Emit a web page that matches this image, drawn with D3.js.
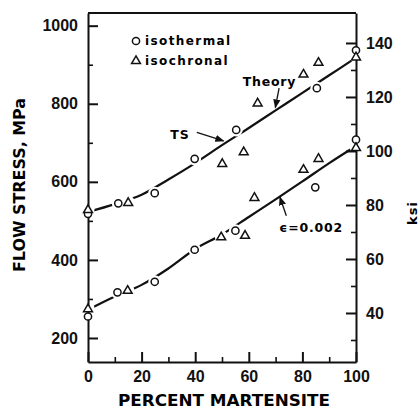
<!DOCTYPE html>
<html>
<head>
<meta charset="utf-8">
<script src="https://cdn.jsdelivr.net/npm/d3@7"></script>
<style>
  body { margin: 0; background: #fff; }
  svg { display: block; font-family: "DejaVu Sans", sans-serif; }
  .tick text { font-size: 16px; fill: #111; font-weight: bold; }
  .axis path, .axis line { stroke: #111; stroke-width: 2; }
  .minor line { stroke-width: 1.6; }
</style>
</head>
<body>
<div class="svg-container"></div>
<script>
// percent martensite (x) and theory curves (MPa)
let pct = [0, 10, 20, 30, 40, 50, 60, 70, 80, 90, 100];
let tsTheory = [523, 543, 567, 606, 648, 694, 738, 783, 828, 873, 918];
let yieldTheory = [272, 306, 336, 378, 428, 465, 510, 555, 601, 648, 692];

// measured points [percent, MPa]
let tsIsothermal = [[0, 518], [11.3, 545], [24.9, 571], [39.8, 659], [55.3, 733], [85.4, 840], [100, 937]];
let tsIsochronal = [[0, 530], [15, 548], [50.1, 648], [58.1, 678], [63.3, 803], [80.4, 877], [86, 907], [100, 921]];
let yieldIsothermal = [[0, 255], [11, 317], [24.9, 344], [39.8, 426], [55, 475], [84.8, 586], [100, 708]];
let yieldIsochronal = [[0, 276], [14.8, 323], [49.7, 460], [58.6, 464], [62.1, 561], [80.4, 633], [86, 661], [100, 689]];

// ticks
let xMajor = [0, 20, 40, 60, 80, 100];
let xMinor = [10, 30, 50, 70, 90];
let mpaMajor = [200, 400, 600, 800, 1000];
let mpaMinor = [300, 500, 700, 900];
let ksiMajor = [40, 60, 80, 100, 120, 140];
let ksiMinor = [30, 50, 70, 90, 110, 130];

let width = 419, height = 411;

let svg = d3.select(".svg-container").append("svg")
  .attr("width", width)
  .attr("height", height);

// arrow head
svg.append("defs").append("marker")
  .attr("id", "arrow")
  .attr("viewBox", "0 0 10 10")
  .attr("refX", 9).attr("refY", 5)
  .attr("markerWidth", 7).attr("markerHeight", 7)
  .attr("orient", "auto")
  .append("path")
  .attr("d", "M0,1 L10,5 L0,9 Z")
  .attr("fill", "#111");

const x = d3.scaleLinear().domain([0, 100]).range([88, 356]);
const y = d3.scaleLinear().domain([138.5, 1032.5]).range([362, 13]);
const yKsi = d3.scaleLinear().domain([21.85, 151.1]).range([362, 13]);

// theory lines
const line = d3.line()
  .x((d, i) => x(pct[i]))
  .y(d => y(d))
  .curve(d3.curveMonotoneX);

[tsTheory, yieldTheory].forEach(series => {
  svg.append("path")
    .datum(series)
    .attr("d", line)
    .attr("fill", "none")
    .attr("stroke", "#111")
    .attr("stroke-width", 2.2);
});

// white gaps round points
let allPts = [].concat(tsIsothermal, tsIsochronal, yieldIsothermal, yieldIsochronal);
svg.append("g").selectAll("circle")
  .data(allPts)
  .enter()
  .append("circle")
  .attr("cx", d => x(d[0]))
  .attr("cy", d => y(d[1]))
  .attr("r", 6.5)
  .attr("fill", "#fff");

// frame top
svg.append("line")
  .attr("x1", x(0)).attr("x2", x(100))
  .attr("y1", y.range()[1]).attr("y2", y.range()[1])
  .attr("stroke", "#111").attr("stroke-width", 2);

// left axis
svg.append("g")
  .attr("class", "axis")
  .attr("transform", "translate(" + x(0) + ",0)")
  .call(d3.axisLeft(y).tickValues(mpaMajor).tickSize(-10).tickSizeOuter(0).tickPadding(10).tickFormat(d3.format("d")));
svg.append("g")
  .attr("class", "axis minor")
  .attr("transform", "translate(" + x(0) + ",0)")
  .call(d3.axisLeft(y).tickValues(mpaMinor).tickSize(-5).tickFormat(""))
  .call(g => g.select(".domain").remove());

// right axis (ksi)
svg.append("g")
  .attr("class", "axis")
  .attr("transform", "translate(" + x(100) + ",0)")
  .call(d3.axisRight(yKsi).tickValues(ksiMajor).tickSize(-10).tickSizeOuter(0).tickPadding(10).tickFormat(d3.format("d")));
svg.append("g")
  .attr("class", "axis minor")
  .attr("transform", "translate(" + x(100) + ",0)")
  .call(d3.axisRight(yKsi).tickValues(ksiMinor).tickSize(-5).tickFormat(""))
  .call(g => g.select(".domain").remove());

// bottom axis
svg.append("g")
  .attr("class", "axis")
  .attr("transform", "translate(0," + y.range()[0] + ")")
  .call(d3.axisBottom(x).tickValues(xMajor).tickSize(-10).tickSizeOuter(0).tickPadding(9).tickFormat(d3.format("d")));
svg.append("g")
  .attr("class", "axis minor")
  .attr("transform", "translate(0," + y.range()[0] + ")")
  .call(d3.axisBottom(x).tickValues(xMinor).tickSize(-5).tickFormat(""))
  .call(g => g.select(".domain").remove());

// markers
const tri = d3.symbol().type(d3.symbolTriangle).size(34);

[tsIsothermal, yieldIsothermal].forEach(pts => {
  svg.append("g").selectAll("circle")
    .data(pts)
    .enter()
    .append("circle")
    .attr("cx", d => x(d[0]))
    .attr("cy", d => y(d[1]))
    .attr("r", 3.6)
    .attr("fill", "#fff")
    .attr("stroke", "#111")
    .attr("stroke-width", 1.5);
});

[tsIsochronal, yieldIsochronal].forEach(pts => {
  svg.append("g").selectAll("path")
    .data(pts)
    .enter()
    .append("path")
    .attr("d", tri)
    .attr("transform", d => "translate(" + x(d[0]) + "," + (y(d[1]) + 0.8) + ")")
    .attr("fill", "#fff")
    .attr("stroke", "#111")
    .attr("stroke-width", 1.5);
});

// legend
svg.append("circle")
  .attr("cx", 136).attr("cy", 41).attr("r", 3.6)
  .attr("fill", "#fff").attr("stroke", "#111").attr("stroke-width", 1.5);
svg.append("path")
  .attr("d", tri)
  .attr("transform", "translate(136,61)")
  .attr("fill", "#fff").attr("stroke", "#111").attr("stroke-width", 1.5);
svg.append("text").text("isothermal")
  .attr("x", 145).attr("y", 45)
  .attr("font-size", 12).attr("letter-spacing", 1.4).attr("font-weight", "bold");
svg.append("text").text("isochronal")
  .attr("x", 145).attr("y", 65)
  .attr("font-size", 12).attr("letter-spacing", 1.4).attr("font-weight", "bold");

// annotations (positions in data units)
let notes = [
  { text: "TS", tx: 34.3, ty: 710, anchor: "middle", from: [40.6, 727], to: [50.6, 705] },
  { text: "Theory", tx: 67.7, ty: 845, anchor: "middle", from: [71.3, 840], to: [69.9, 790] },
  { text: "ϵ=0.002", tx: 71.4, ty: 472, anchor: "start", from: [74.0, 513], to: [71.6, 561] }
];

notes.forEach(n => {
  svg.append("text")
    .text(n.text)
    .attr("x", x(n.tx))
    .attr("y", y(n.ty))
    .attr("text-anchor", n.anchor)
    .attr("font-size", 12.5)
    .attr("font-weight", "bold")
    .attr("letter-spacing", 0.8);
  svg.append("line")
    .attr("x1", x(n.from[0])).attr("y1", y(n.from[1]))
    .attr("x2", x(n.to[0])).attr("y2", y(n.to[1]))
    .attr("stroke", "#111").attr("stroke-width", 1.3)
    .attr("marker-end", "url(#arrow)");
});

// axis titles
svg.append("text")
  .text("PERCENT MARTENSITE")
  .attr("x", 118).attr("y", 406)
  .attr("textLength", 212).attr("lengthAdjust", "spacingAndGlyphs")
  .attr("font-size", 16).attr("font-weight", "bold");

svg.append("text")
  .text("FLOW STRESS, MPa")
  .attr("transform", "translate(25,272) rotate(-90)")
  .attr("textLength", 174).attr("lengthAdjust", "spacingAndGlyphs")
  .attr("font-size", 16).attr("font-weight", "bold");

svg.append("text")
  .text("ksi")
  .attr("transform", "translate(417,213) rotate(-90)")
  .attr("text-anchor", "middle")
  .attr("font-size", 13).attr("font-weight", "bold").attr("letter-spacing", 1);
</script>
</body>
</html>
